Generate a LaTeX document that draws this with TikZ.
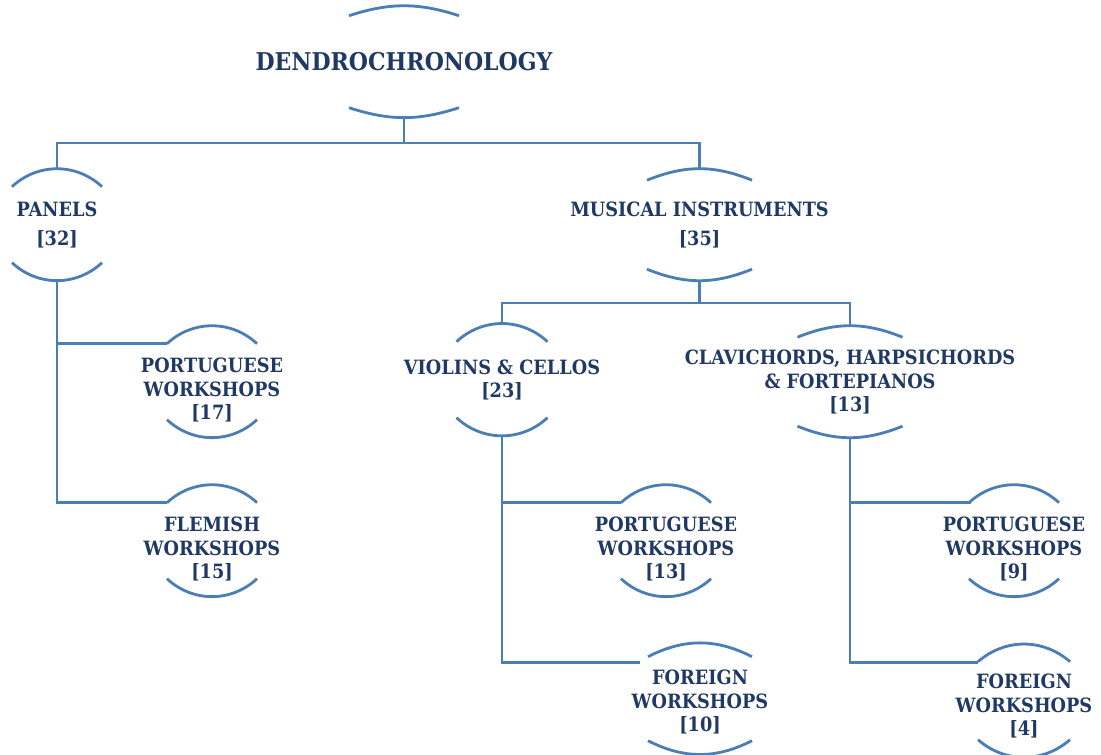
\documentclass[tikz,border=0pt]{standalone}
\usepackage{fontspec}
\setmainfont{DejaVu Serif Condensed}
\definecolor{inkblue}{RGB}{31,56,100}
\definecolor{lineblue}{RGB}{74,126,181}
\tikzset{
  link/.style={draw=lineblue, line width=2pt},
  ring/.style n args={3}{minimum height=2.8cm, inner sep=0pt, align=center, text=inkblue,
    font=\bfseries\fontsize{14}{17}\selectfont,
    append after command={
      ([shift={(-#1,#2)}]\tikzlastnode.north) edge[link, bend left=#3] ([shift={(#1,#2)}]\tikzlastnode.north)
      ([shift={(-#1,112-#2)}]\tikzlastnode.north) edge[link, bend right=#3] ([shift={(#1,112-#2)}]\tikzlastnode.north)
    }},
  leaf/.style={ring={45}{18}{43}, minimum height=3.2cm},
  wide/.style={ring={52.5}{11.5}{22}},
}
\begin{document}
\begin{tikzpicture}[x=0.025cm, y=-0.025cm]
    \useasboundingbox (0,0) rectangle (1101,755);

    \node[ring={55}{10}{18}, font=\bfseries\fontsize{17.4}{20}\selectfont] at (404,62) (dendro) {DENDROCHRONOLOGY};

    \node[leaf, minimum height=2.8cm] at (57,225) (panels) {PANELS\\[4pt]{[32]}};
    \node[wide] at (699.5,225) (musical) {MUSICAL INSTRUMENTS\\[4pt]{[35]}};

    \node[leaf] at (212,390) (port17) {PORTUGUESE\\WORKSHOPS\\{[17]}};
    \node[leaf] at (212,549) (flem15) {FLEMISH\\WORKSHOPS\\{[15]}};

    \node[ring={45.5}{18}{43}] at (502,380) (violins) {VIOLINS \& CELLOS\\{[23]}};
    \node[wide] at (850,382) (clavi) {CLAVICHORDS, HARPSICHORDS\\\& FORTEPIANOS\\{[13]}};

    \node[leaf] at (666,549) (port13) {PORTUGUESE\\WORKSHOPS\\{[13]}};
    \node[ring={52}{14}{27}, minimum height=2.95cm] at (700,702) (foreign10) {FOREIGN\\WORKSHOPS\\{[10]}};
    \node[leaf] at (1014,549) (port9) {PORTUGUESE\\WORKSHOPS\\{[9]}};
    \node[ring={46}{17}{41}, minimum height=3.05cm] at (1024,706) (foreign4) {FOREIGN\\WORKSHOPS\\{[4]}};

    \draw[link] (dendro.south) -- (dendro.south |- 0,143);
    \draw[link] (panels.north) |- (musical.north |- 0,143) -- (musical.north);

    \draw[link] (musical.south) -- (musical.south |- 0,303);
    \draw[link] (violins.north) |- (clavi.north |- 0,303) -- (clavi.north);

    \draw[link] (panels.south) |- ([shift={(-45,18)}]port17.north);
    \draw[link] (panels.south) |- ([shift={(-45,18)}]flem15.north);

    \draw[link] (violins.south) |- ([shift={(-45,18)}]port13.north);
    \draw[link] (violins.south) |- ([shift={(-60,20)}]foreign10.north);

    \draw[link] (clavi.south) |- ([shift={(-43,18)}]port9.north);
    \draw[link] (clavi.south) |- ([shift={(-46,18)}]foreign4.north);
\end{tikzpicture}
\end{document}
